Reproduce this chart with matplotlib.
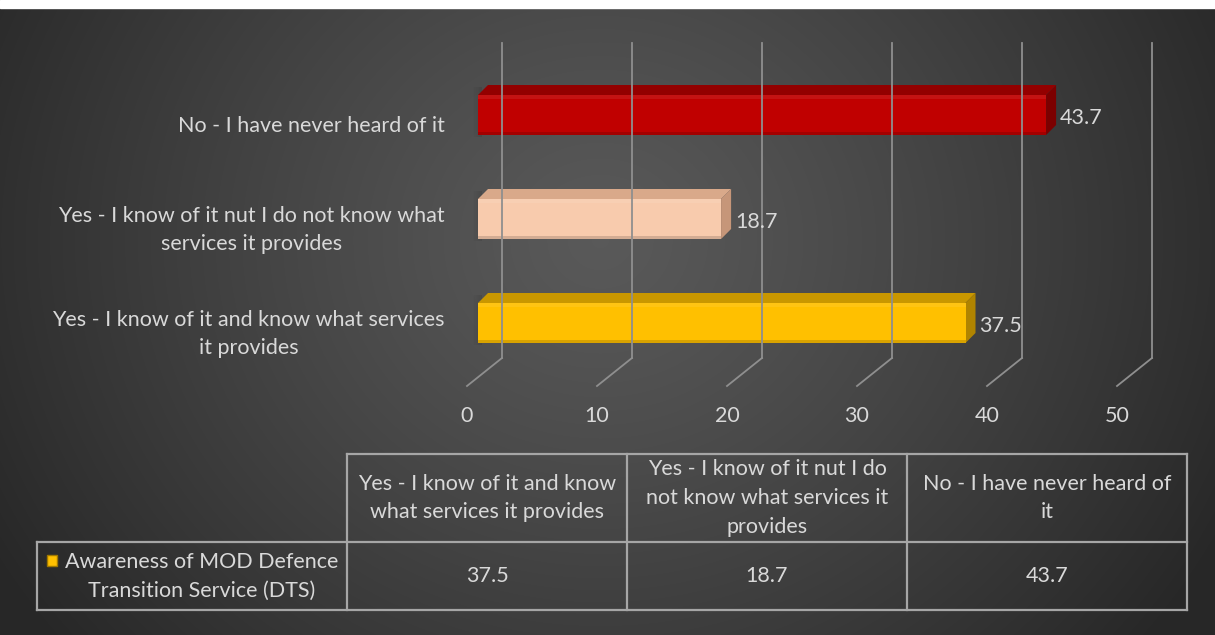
import numpy as np
import matplotlib.pyplot as plt
from matplotlib.patches import Polygon, Rectangle

plt.rcParams['font.family'] = ['Lato', 'DejaVu Sans']

# data (bottom to top)
categories = ["Yes - I know of it and know what services\nit provides",
              "Yes - I know of it nut I do not know what\nservices it provides",
              "No - I have never heard of it"]
values = [37.5, 18.7, 43.7]
table_headers = ["Yes - I know of it and know\nwhat services it provides",
                 "Yes - I know of it nut I do\nnot know what services it\nprovides",
                 "No - I have never heard of\nit"]
series_name = "Awareness of MOD Defence\nTransition Service (DTS)"
ticks = [0, 10, 20, 30, 40, 50]

front_colors = ["#ffc000", "#f8cbad", "#c00000"]
top_colors = ["#c99700", "#d9a98a", "#930000"]
side_colors = ["#b08400", "#c69679", "#7c0000"]
txt = "#d9d9d9"
fs = 15.5
ls = 1.55

W, H = 1215, 635
fig = plt.figure(figsize=(W / 100, H / 100), dpi=100)

# background with radial gradient
bg = fig.add_axes([0, 0, 1, 1])
yy, xx = np.mgrid[0:H, 0:W]
r = np.hypot(xx - 600, (yy - 240) * 1.1)
t = np.clip(r / 700, 0, 1) ** 1.2
g = 0.35 * (1 - t) + 0.155 * t
bg.imshow(np.dstack([g, g, g]), extent=[0, W, H, 0], aspect='auto')
bg.add_patch(Rectangle((0, 0), W, 8, color='white'))
bg.set_xlim(0, W)
bg.set_ylim(H, 0)
bg.axis('off')

# plot area: x in values (13 px per unit), y in category index (104 px per unit)
sx, sy = 13.0, 104.0
ax = fig.add_axes([478 / W, (H - 358) / H, 650 / W, 315 / H])
ax.set_xlim(0, 50)
ax.set_ylim(-35 / sy, 280 / sy)
ax.axis('off')

grid_c = "#8f8f8f"
y0 = -35 / sy
for tk in ticks:
    bx = tk + 24 / sx
    fx = tk - 11 / sx
    ax.plot([bx, bx], [y0, 280 / sy], color=grid_c, lw=1.3, clip_on=False)
    ax.plot([bx, fx], [y0, y0 - 28 / sy], color=grid_c, lw=1.3, clip_on=False)
    ax.text(fx, -93 / sy, str(tk), ha='center', va='center', color=txt,
            fontsize=fs, clip_on=False)

h = 20 / sy
ddx, ddy = 10 / sx, 10 / sy
for i, (cat, v) in enumerate(zip(categories, values)):
    # soft shadow left of bar
    for k in range(7):
        ax.add_patch(Rectangle((-(k + 1) * 0.1 + ddx * 0.4, i - h - 0.02), 0.1, 2 * h + 0.1,
                               color='black', alpha=0.09 * (7 - k) / 7, lw=0,
                               clip_on=False))
    ax.add_patch(Polygon([(0, i + h), (v, i + h), (v + ddx, i + h + ddy), (ddx, i + h + ddy)],
                         closed=True, facecolor=top_colors[i], lw=0, clip_on=False))
    ax.add_patch(Polygon([(v, i - h), (v, i + h), (v + ddx, i + h + ddy), (v + ddx, i - h + ddy)],
                         closed=True, facecolor=side_colors[i], lw=0, clip_on=False))
    ax.add_patch(Rectangle((0, i - h), v, 2 * h, facecolor=front_colors[i], lw=0,
                           clip_on=False))
    ax.add_patch(Rectangle((0, i + h - 4 / sy), v, 4 / sy, facecolor='white', alpha=0.08,
                           lw=0, clip_on=False))
    ax.add_patch(Rectangle((0, i - h), v, 3 / sy, facecolor='black', alpha=0.15,
                           lw=0, clip_on=False))
    ax.text(v + 14 / sx, i - 3 / sy, f"{v:.1f}", ha='left', va='center', color=txt,
            fontsize=fs, clip_on=False)
    ax.text(-33 / sx, i - 11 / sy, cat, ha='right', va='center', ma='center', color=txt,
            fontsize=fs, linespacing=ls, clip_on=False)

# data table
line_c = "#a6a6a6"
cols = [347, 627, 907, 1187]
top, mid, bot = 454, 542, 610
left = 37
lw = 1.6
bg.plot([cols[0], cols[-1]], [top, top], color=line_c, lw=lw)
bg.plot([left, cols[-1]], [mid, mid], color=line_c, lw=lw)
bg.plot([left, cols[-1]], [bot, bot], color=line_c, lw=lw)
bg.plot([left, left], [mid, bot], color=line_c, lw=lw)
for c in cols:
    bg.plot([c, c], [top, bot], color=line_c, lw=lw)
for j, (hd, v) in enumerate(zip(table_headers, values)):
    cx = (cols[j] + cols[j + 1]) / 2
    bg.text(cx, (top + mid) / 2, hd, ha='center', va='center', color=txt,
            fontsize=fs, linespacing=ls)
    bg.text(cx, (mid + bot) / 2, f"{v:.1f}", ha='center', va='center', color=txt,
            fontsize=fs)
bg.add_patch(Rectangle((47, 555), 10, 11, facecolor=front_colors[0],
                       edgecolor="#a07800", lw=1))
bg.text(202, (mid + bot) / 2, series_name, ha='center', va='center', color=txt,
        fontsize=fs, linespacing=ls)

fig.savefig("out.png", dpi=100)
